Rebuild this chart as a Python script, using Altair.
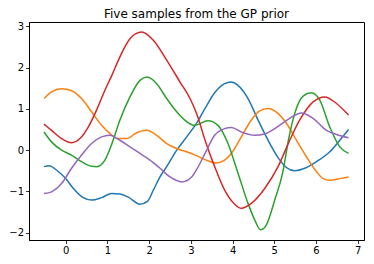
import altair as alt
import pandas as pd

# Sample 1 (blue)
s1_x = [-0.52, -0.4, -0.2, 0.0, 0.2, 0.4, 0.62, 0.86, 1.1, 1.3, 1.5, 1.78, 1.96, 2.1, 2.26, 2.42, 2.66, 2.9, 3.15, 3.34, 3.57, 3.81, 3.96, 4.13, 4.37, 4.61, 4.85, 5.09, 5.29, 5.49, 5.73, 6.01, 6.33, 6.57, 6.78]
s1_y = [-0.40, -0.38, -0.50, -0.69, -0.95, -1.14, -1.21, -1.15, -1.05, -1.06, -1.14, -1.31, -1.24, -0.97, -0.65, -0.40, 0.0, 0.32, 0.67, 1.01, 1.39, 1.61, 1.65, 1.57, 1.25, 0.73, 0.24, -0.18, -0.42, -0.50, -0.44, -0.28, -0.04, 0.24, 0.50]

# Sample 2 (orange)
s2_x = [-0.52, -0.34, -0.1, 0.14, 0.38, 0.62, 0.86, 1.06, 1.25, 1.46, 1.7, 1.94, 2.18, 2.42, 2.66, 2.9, 3.15, 3.34, 3.6, 3.81, 3.97, 4.21, 4.45, 4.65, 4.85, 5.09, 5.29, 5.53, 5.77, 6.01, 6.17, 6.33, 6.57, 6.78]
s2_y = [1.25, 1.41, 1.49, 1.44, 1.25, 0.93, 0.60, 0.40, 0.28, 0.28, 0.42, 0.48, 0.36, 0.16, 0.04, -0.04, -0.14, -0.23, -0.31, -0.24, -0.08, 0.32, 0.73, 0.95, 1.01, 0.89, 0.65, 0.24, -0.16, -0.52, -0.69, -0.73, -0.69, -0.65]

# Sample 3 (green)
s3_x = [-0.52, -0.34, -0.1, 0.14, 0.38, 0.62, 0.74, 0.94, 1.08, 1.3, 1.54, 1.78, 1.95, 2.18, 2.42, 2.66, 2.9, 3.08, 3.41, 3.65, 3.89, 4.13, 4.37, 4.53, 4.67, 4.81, 5.01, 5.2, 5.35, 5.49, 5.69, 5.89, 6.09, 6.33, 6.57, 6.78]
s3_y = [0.44, 0.20, 0.0, -0.12, -0.28, -0.39, -0.40, -0.24, 0.08, 0.73, 1.29, 1.69, 1.77, 1.61, 1.25, 0.93, 0.69, 0.60, 0.71, 0.60, 0.16, -0.56, -1.29, -1.69, -1.93, -1.81, -1.21, -0.55, 0.30, 0.89, 1.31, 1.39, 1.21, 0.56, 0.08, -0.08]

# Sample 4 (red)
s4_x = [-0.52, -0.34, -0.1, 0.14, 0.34, 0.54, 0.74, 0.94, 1.1, 1.3, 1.54, 1.82, 2.1, 2.42, 2.74, 2.98, 3.15, 3.34, 3.57, 3.81, 4.05, 4.21, 4.45, 4.77, 5.09, 5.37, 5.61, 5.93, 6.21, 6.49, 6.78]
s4_y = [0.63, 0.48, 0.28, 0.18, 0.28, 0.56, 0.97, 1.45, 1.80, 2.26, 2.70, 2.86, 2.66, 2.18, 1.65, 1.25, 0.85, 0.24, -0.40, -0.97, -1.31, -1.41, -1.29, -0.93, -0.40, 0.24, 0.73, 1.17, 1.29, 1.13, 0.85]

# Sample 5 (purple)
s5_x = [-0.52, -0.34, -0.1, 0.14, 0.38, 0.62, 0.86, 1.06, 1.3, 1.54, 1.78, 2.02, 2.26, 2.5, 2.78, 3.02, 3.15, 3.34, 3.57, 3.81, 3.97, 4.21, 4.53, 4.77, 5.01, 5.25, 5.37, 5.65, 5.93, 6.25, 6.49, 6.78]
s5_y = [-1.05, -1.01, -0.81, -0.44, -0.12, 0.16, 0.32, 0.36, 0.24, 0.08, -0.08, -0.24, -0.44, -0.65, -0.77, -0.65, -0.45, -0.08, 0.36, 0.52, 0.55, 0.44, 0.36, 0.39, 0.52, 0.69, 0.77, 0.90, 0.77, 0.48, 0.38, 0.30]

series = ["s1", "s2", "s3", "s4", "s5"]
colors = ["#1f77b4", "#ff7f0e", "#2ca02c", "#d62728", "#9467bd"]
x_ticks = [0, 1, 2, 3, 4, 5, 6, 7]
y_ticks = [-2, -1, 0, 1, 2, 3]
title_text = "Five samples from the GP prior"

rows = []
for name, xs, ys in zip(series, [s1_x, s2_x, s3_x, s4_x, s5_x], [s1_y, s2_y, s3_y, s4_y, s5_y]):
    for i, (xv, yv) in enumerate(zip(xs, ys)):
        rows.append({"series": name, "x": xv, "y": yv, "i": i})
df = pd.DataFrame(rows)

W, H = 335, 218

layers = []
for name, col in zip(series, colors):
    layers.append(
        alt.Chart(df[df.series == name]).mark_line(
            interpolate="monotone", strokeWidth=1.5, color=col
        ).encode(
            x=alt.X("x:Q", scale=alt.Scale(domain=[-0.88, 7.15], nice=False, zero=False),
                    axis=alt.Axis(values=x_ticks, title=None, grid=False, format="d")),
            y=alt.Y("y:Q", scale=alt.Scale(domain=[-2.177, 3.104], nice=False, zero=False),
                    axis=alt.Axis(values=y_ticks, title=None, grid=False, format="d")),
            order="i:Q",
        )
    )

title_layer = alt.Chart(pd.DataFrame({"t": [title_text]})).mark_text(
    font="DejaVu Sans", fontSize=12, color="black", align="center", baseline="alphabetic"
).encode(
    text="t:N",
    x=alt.value(W / 2),
    y=alt.value(-4),
)

chart = alt.layer(*layers, title_layer).properties(
    width=W,
    height=H,
    autosize=alt.AutoSizeParams(type="none"),
    padding={"left": 21, "top": 14, "right": 2, "bottom": 16},
).configure_view(
    stroke="black", strokeWidth=1, clip=False
).configure_axis(
    domainColor="black", tickColor="black", labelColor="black",
    labelFont="DejaVu Sans", labelFontSize=10, tickSize=3.5, labelPadding=2,
    domainWidth=1, tickWidth=0.8,
)

chart.save("out.html", embed_options={"renderer": "svg", "actions": False})
